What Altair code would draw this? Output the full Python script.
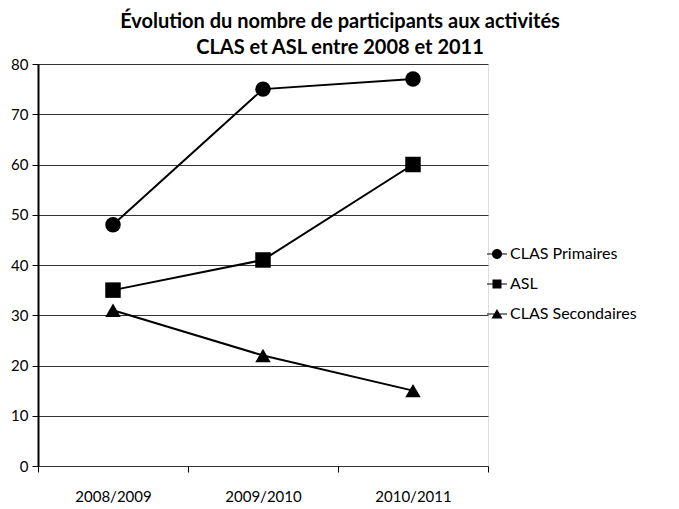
import altair as alt
import pandas as pd

years = ["2008/2009", "2009/2010", "2010/2011"]
series_names = ["CLAS Primaires", "ASL", "CLAS Secondaires"]
clas_primaires = [48, 75, 77]
asl = [35, 41, 60]
clas_secondaires = [31, 22, 15]

rows = []
for name, vals in zip(series_names, [clas_primaires, asl, clas_secondaires]):
    for y, v in zip(years, vals):
        rows.append({"year": y, "series": name, "value": v})
df = pd.DataFrame(rows)

FONT = "Lato"

x_enc = alt.X("year:N", sort=years, title=None,
              scale=alt.Scale(paddingInner=0, paddingOuter=0),
              axis=alt.Axis(labelAngle=0, tickBand="extent", tickSize=6, tickColor="black",
                            tickWidth=1, domain=False, labelPadding=17, labelFontSize=15,
                            labelColor="black", labelFont=FONT))
y_enc = alt.Y("value:Q", title=None,
              scale=alt.Scale(domain=[0, 80], nice=False),
              axis=alt.Axis(values=list(range(0, 81, 10)), tickSize=6, tickColor="black",
                            domainColor="black", domainWidth=2, gridColor="#333",
                            gridWidth=1, labelFontSize=15, labelColor="black",
                            labelFont=FONT, labelPadding=4))

line = alt.Chart(df).mark_line(color="black", strokeWidth=2).encode(
    x=x_enc, y=y_enc, detail="series:N")

points = alt.Chart(df).mark_point(filled=True, color="black", opacity=1, size=240).encode(
    x=x_enc, y=y_enc,
    shape=alt.Shape("series:N", sort=series_names, legend=None,
                    scale=alt.Scale(domain=series_names,
                                    range=["circle", "square", "triangle-up"])))

legend_paths = [
    "M-1,-0.06H1V0.06H-1Z M0.5,0A0.5,0.5,0,1,1,-0.5,0A0.5,0.5,0,1,1,0.5,0Z",
    "M-1,-0.06H1V0.06H-1Z M-0.45,-0.45H0.45V0.45H-0.45Z",
    "M-1,-0.06H1V0.06H-1Z M0,-0.5L0.55,0.45H-0.55Z",
]
legend_layer = alt.Chart(df).mark_point(filled=True, color="black", opacity=0).encode(
    x=x_enc, y=y_enc,
    shape=alt.Shape("series:N", sort=series_names,
                    scale=alt.Scale(domain=series_names, range=legend_paths),
                    legend=alt.Legend(title=None, orient="none", legendX=449, legendY=180,
                                      symbolSize=400, symbolOpacity=1,
                                      symbolFillColor="black", symbolStrokeColor="black",
                                      symbolStrokeWidth=0, rowPadding=12, padding=0,
                                      labelFontSize=16, labelFont=FONT, labelColor="black",
                                      labelOffset=3)))

chart = alt.layer(line, points, legend_layer).resolve_scale(shape="independent").properties(
    width=450, height=402,
    padding={"left": 30, "top": 56, "right": 183, "bottom": 38},
    autosize=alt.AutoSizeParams(type="none"),
    title=alt.TitleParams(
        ["Évolution du nombre de participants aux activités", "CLAS et ASL entre 2008 et 2011"],
        font=FONT, fontSize=20, fontWeight="bold", color="black", anchor="middle",
        dx=77, offset=-1, lineHeight=26),
).configure_view(stroke="black", strokeWidth=2).configure(background="white")

chart.save("out.html", embed_options={"renderer": "svg", "actions": False})
